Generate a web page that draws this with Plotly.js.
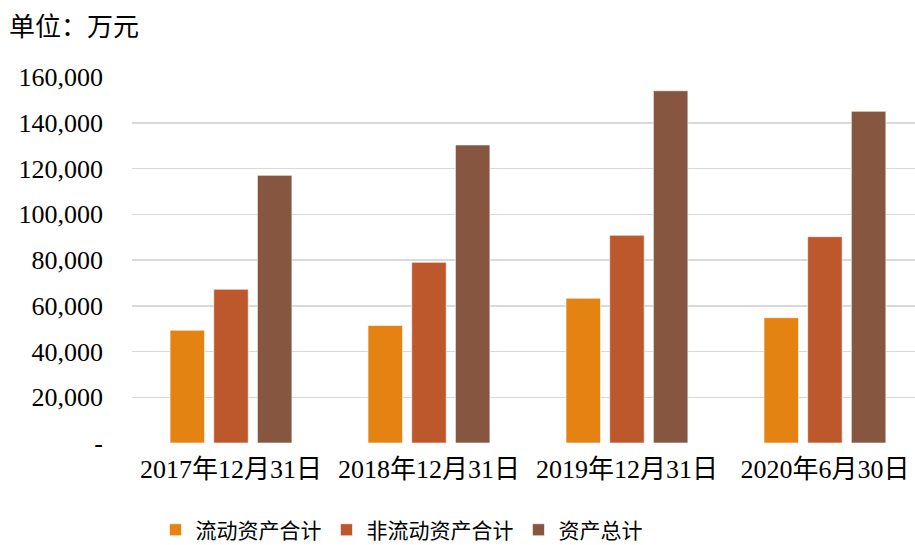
<!DOCTYPE html>
<html>
<head>
<meta charset="utf-8">
<script src="https://cdn.plot.ly/plotly-3.0.1.min.js"></script>
<style>html,body{margin:0;padding:0;background:#fff;}#chart{width:915px;height:545px;}</style>
</head>
<body>
<div id="chart"></div>
<script>
var categories = ["2017年12月31日", "2018年12月31日", "2019年12月31日", "2020年6月30日"];
var currentAssets = [49300, 51400, 63300, 54800];
var nonCurrentAssets = [67200, 79000, 90800, 90200];
var totalAssets = [117000, 130300, 154000, 145000];
var seriesNames = ["流动资产合计", "非流动资产合计", "资产总计"];
var yTickVals = [0, 20000, 40000, 60000, 80000, 100000, 120000, 140000, 160000];
var yTickText = ["-", "20,000", "40,000", "60,000", "80,000", "100,000", "120,000", "140,000", "160,000"];
var unitLabel = "单位：万元";

var colors = ["#E48312", "#BD582C", "#865640"];
var font = "'Liberation Serif', 'Times New Roman', 'Noto Sans CJK SC', serif";
var series = [currentAssets, nonCurrentAssets, totalAssets];

var data = series.map(function (vals, i) {
  return {
    type: "bar",
    x: categories,
    y: vals,
    name: seriesNames[i],
    marker: { color: colors[i], line: { color: "rgba(255,255,255,0.6)", width: 1 } },
    hoverinfo: "none"
  };
});

var layout = {
  width: 915,
  height: 545,
  margin: { l: 132, r: 0, t: 77, b: 102, autoexpand: false },
  paper_bgcolor: "#fff",
  plot_bgcolor: "#fff",
  barmode: "group",
  bargap: 0.338,
  bargroupgap: 0.21,
  font: { family: font, color: "#000", size: 26 },
  xaxis: {
    type: "category",
    range: [-0.5, 3.455],
    showgrid: false,
    zeroline: false,
    showline: false,
    ticks: "",
    tickfont: { size: 26, family: font },
    ticklabelstandoff: 8,
    automargin: false
  },
  yaxis: {
    range: [0, 160000],
    tickvals: yTickVals,
    ticktext: yTickText,
    showgrid: true,
    gridcolor: "#D9D9D9",
    gridwidth: 1.5,
    zeroline: false,
    showline: false,
    ticks: "",
    tickfont: { size: 26, family: font },
    ticklabelstandoff: 28,
    automargin: false
  },
  showlegend: true,
  legend: {
    orientation: "h",
    x: 0.03,
    xanchor: "left",
    y: -0.238,
    yanchor: "middle",
    font: { size: 21, family: font },
    itemclick: false,
    traceorder: "normal"
  },
  annotations: [{
    text: unitLabel,
    xref: "paper", yref: "paper",
    x: -0.16, y: 1.136,
    xanchor: "left", yanchor: "middle",
    showarrow: false,
    font: { size: 26, family: font }
  }]
};

Plotly.newPlot("chart", data, layout, { displayModeBar: false, staticPlot: true });
</script>
</body>
</html>
